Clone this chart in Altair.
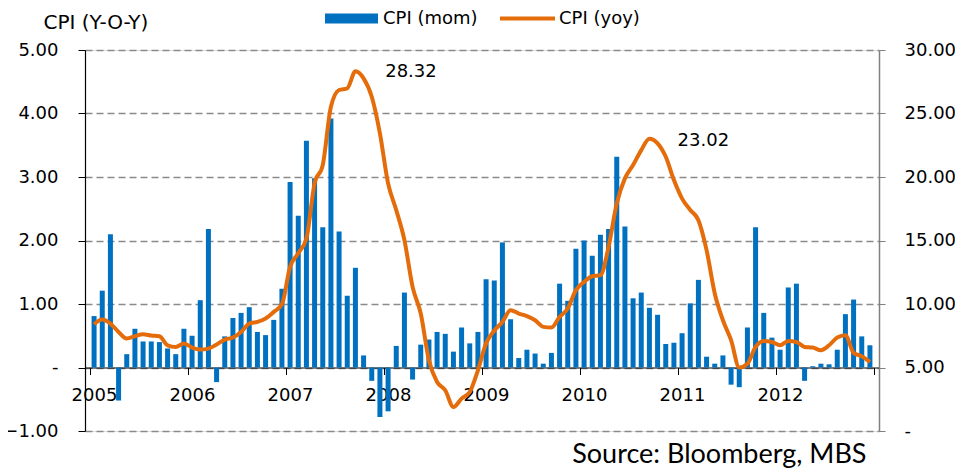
import altair as alt
import pandas as pd

years = [2005, 2006, 2007, 2008, 2009, 2010, 2011, 2012]

cpi_mom = [
    0.81, 1.21, 2.10, -0.52, 0.21, 0.61, 0.41, 0.41, 0.40, 0.30, 0.21, 0.61,
    0.50, 1.06, 2.18, -0.23, 0.49, 0.78, 0.86, 0.95, 0.56, 0.51, 0.75, 1.24,
    2.92, 2.39, 3.57, 2.98, 2.21, 3.92, 2.14, 1.13, 1.57, 0.19, -0.21, -0.78,
    -0.69, 0.34, 1.18, -0.19, 0.36, 0.44, 0.56, 0.53, 0.25, 0.63, 0.38, 0.56,
    1.39, 1.37, 1.97, 0.76, 0.15, 0.28, 0.22, 0.06, 0.23, 1.32, 1.05, 1.87,
    2.00, 1.76, 2.09, 2.18, 3.32, 2.22, 1.09, 1.18, 0.94, 0.83, 0.37, 0.39,
    0.54, 1.01, 1.38, 0.17, 0.06, 0.19, -0.27, -0.31, 0.63, 2.21, 0.86, 0.47,
    0.28, 1.26, 1.32, -0.21, 0.02, 0.06, 0.05, 0.28, 0.84, 1.07, 0.49, 0.35,
]

cpi_yoy = [
    8.41, 8.78, 8.46, 7.80, 7.28, 7.46, 7.62, 7.52, 7.46, 6.75, 6.62, 6.89,
    6.57, 6.41, 6.49, 6.81, 7.20, 7.36, 7.80, 8.46, 8.59, 8.86, 9.38, 9.98,
    12.92, 14.00, 15.16, 19.50, 20.94, 25.53, 26.85, 26.98, 28.32, 27.77, 26.32, 23.44,
    19.50, 17.39, 15.03, 11.35, 9.25, 5.57, 3.86, 3.21, 1.89, 2.55, 3.07, 4.78,
    6.90, 7.90, 8.59, 9.51, 9.25, 9.04, 8.72, 8.20, 8.15, 8.98, 9.65, 11.09,
    11.74, 12.19, 12.27, 14.50, 17.92, 19.89, 20.94, 22.12, 23.02, 22.65, 21.59, 19.76,
    18.30, 17.40, 16.60, 14.24, 10.83, 8.72, 7.15, 5.00, 5.30, 6.62, 7.09, 7.01,
    6.75, 7.09, 7.01, 6.62, 6.57, 6.36, 6.75, 7.36, 7.54, 6.15, 5.89, 5.44,
]

ann_month = [39.3, 75.1]
ann_value = [28.3, 22.8]
ann_text = ["28.32", "23.02"]

FONT = "DejaVu Sans"
BLUE = "#0070C0"
ORANGE = "#E46C0A"

df = pd.DataFrame({
    "m": [i + 0.5 for i in range(len(cpi_mom))],
    "mom": cpi_mom,
    "yoy": cpi_yoy,
    "s1": "CPI (mom)",
    "s2": "CPI (yoy)",
})
ann = pd.DataFrame({"m": ann_month, "v": ann_value, "t": ann_text})

x_ticks = [12 * i for i in range(len(years) + 1)]
x_enc = alt.X(
    "m:Q",
    scale=alt.Scale(domain=[0, 96], nice=False, zero=False),
    axis=alt.Axis(
        values=x_ticks,
        labelExpr="datum.value >= 96 ? '' : toString(2005 + datum.value / 12)",
        title=None, grid=False, offset=-63.5,
        tickSize=7, tickColor="black", domainColor="black", domainWidth=1.2,
        labelPadding=12, labelOffset=4, labelFontSize=18, labelFont=FONT,
        labelColor="black", labelFlush=False, labelOverlap=False,
    ),
)

bars = alt.Chart(df).mark_bar(width=5).encode(
    x=x_enc,
    y=alt.Y(
        "mom:Q",
        scale=alt.Scale(domain=[-1, 5], nice=False),
        axis=alt.Axis(
            values=[-1, 0, 1, 2, 3, 4, 5],
            labelExpr="datum.value == 0 ? '-\u00a0\u00a0\u00a0' : format(datum.value, '.2f')",
            title="CPI (Y-O-Y)", titleAngle=0, titleX=-42, titleY=-28,
            titleAlign="left", titleBaseline="middle", titleFont=FONT,
            titleFontSize=20, titleFontWeight="normal", titleColor="black",
            grid=True, gridDash=[7, 4], gridColor="#8a8a8a", gridWidth=1.3,
            tickSize=7, tickColor="black", domainColor="black", domainWidth=1.2,
            labelPadding=20, labelFontSize=18, labelFont=FONT, labelColor="black",
        ),
    ),
    fill=alt.Fill(
        "s1:N",
        scale=alt.Scale(domain=["CPI (mom)"], range=[BLUE]),
        legend=alt.Legend(
            orient="none", legendX=240, legendY=-58, title=None,
            symbolType="M-1,-0.19H1V0.19H-1Z", symbolSize=2809,
            symbolStrokeWidth=0, labelOffset=5, labelFontSize=18,
            labelFont=FONT, labelColor="black", padding=0,
        ),
    ),
)

line = alt.Chart(df).mark_line(strokeWidth=4, interpolate="monotone").encode(
    x="m:Q",
    y=alt.Y(
        "yoy:Q",
        scale=alt.Scale(domain=[0, 30], nice=False),
        axis=alt.Axis(
            orient="right", values=[0, 5, 10, 15, 20, 25, 30],
            labelExpr="datum.value == 0 ? '\u00a0-' : format(datum.value, '.2f')",
            title=None, grid=False, tickSize=6, tickColor="#808080",
            domainColor="#808080", domainWidth=1.5, labelPadding=19,
            labelAlign="left", labelFontSize=18, labelFont=FONT, labelColor="black",
        ),
    ),
    stroke=alt.Stroke(
        "s2:N",
        scale=alt.Scale(domain=["CPI (yoy)"], range=[ORANGE]),
        legend=alt.Legend(
            orient="none", legendX=413, legendY=-61, title=None,
            symbolType="M-1,0H1", symbolSize=3025, symbolStrokeWidth=4,
            labelOffset=2, labelFontSize=18, labelFont=FONT,
            labelColor="black", padding=0,
        ),
    ),
)

labels = alt.Chart(ann).mark_text(
    fontSize=18, font=FONT, color="black", align="center", baseline="middle"
).encode(
    x="m:Q",
    y=alt.Y("v:Q", scale=alt.Scale(domain=[0, 30], nice=False), axis=None),
    text="t:N",
)

chart = (
    alt.layer(bars, line, labels)
    .resolve_scale(y="independent", fill="independent", stroke="independent")
    .properties(
        width=794, height=381,
        autosize=alt.AutoSizeParams(type="none"),
        padding={"left": 77, "top": 42, "right": 76, "bottom": 44},
        title=alt.TitleParams(
            "Source: Bloomberg, MBS", orient="bottom", anchor="end",
            font="Lato", fontSize=27, fontWeight="normal", color="black",
            offset=2, dx=-89,
        ),
    )
    .configure_view(stroke=None)
    .configure(background="white")
)

chart.save("out.html", embed_options={"renderer": "svg", "actions": False})
